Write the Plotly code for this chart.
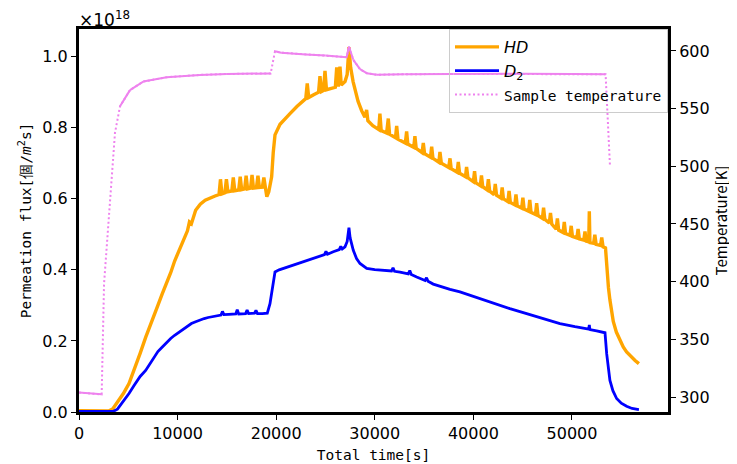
import plotly.graph_objects as go

# ---------------- data (flux in units of 1e18 /m^2 s) ----------------
hd_time = [0, 1000, 2000, 3000, 3400, 4000, 4500, 5070, 5600, 6200, 6760, 7200, 7600, 8000, 8450,
           8900, 9300, 9700, 10140, 10600, 11000, 11200, 11400, 11830, 12300, 12800, 13300, 13800,
           14200, 14350, 14500, 14800, 14950, 15100, 15500, 15650, 15800, 16200, 16350, 16500,
           16800, 16950, 17100, 17400, 17550, 17700, 18000, 18150, 18300, 18600, 18750, 18900,
           19050, 19250, 19540, 19700, 19880, 20390, 20900, 21400, 22100, 22750, 23000, 23150,
           23300, 23800, 24300, 24440, 24600, 24800, 24950, 25100, 25600, 26000, 26140, 26300,
           26470, 26600, 26980, 27200, 27380, 27550, 27800, 27990, 28300, 28670, 29000, 29170,
           29300, 29800, 30400, 30520, 30650, 31200, 31370, 31500, 32100, 32220, 32350, 33100,
           33230, 33350, 33950, 34070, 34200, 34800, 34920, 35050, 35650, 35770, 35900, 36500,
           36610, 36750, 37500, 37630, 37750, 38350, 38470, 38600, 39200, 39310, 39450,
           40000, 40120, 40250, 40700, 40820, 40950, 41400, 41520, 41650, 42100, 42220, 42350,
           42800, 42920, 43050, 43500, 43620, 43750, 44200, 44320, 44450, 44900, 45020, 45150,
           45600, 45720, 45850, 46300, 46420, 46550, 47000, 47120, 47250, 47700, 47820, 47950,
           48400, 48520, 48650, 49100, 49220, 49350, 49800, 49920, 50050, 50500, 50620, 50750,
           51200, 51320, 51450, 51700, 51760, 51820, 52200, 52320, 52450, 52900, 53020, 53150,
           53400, 53520, 53700, 53850, 54190, 54500, 54870, 55200, 55540, 56000, 56400, 56790]
hd_flux = [0.004, 0.003, 0.004, 0.003, 0.008, 0.030, 0.052, 0.080, 0.118, 0.165, 0.210, 0.240, 0.268,
           0.300, 0.333, 0.362, 0.392, 0.425, 0.455, 0.485, 0.510, 0.535, 0.530, 0.568, 0.585, 0.596,
           0.603, 0.608, 0.612, 0.655, 0.614, 0.617, 0.655, 0.620, 0.622, 0.660, 0.623, 0.625, 0.662,
           0.626, 0.628, 0.665, 0.628, 0.630, 0.667, 0.630, 0.631, 0.665, 0.632, 0.633, 0.660, 0.625,
           0.606, 0.620, 0.662, 0.730, 0.780, 0.810, 0.826, 0.840, 0.860, 0.878, 0.882, 0.925, 0.885,
           0.893, 0.900, 0.945, 0.902, 0.905, 0.960, 0.907, 0.912, 0.914, 0.970, 0.916, 0.972, 0.920,
           0.930, 0.950, 1.027, 0.970, 0.930, 0.910, 0.875, 0.848, 0.830, 0.850, 0.820, 0.806, 0.795,
           0.840, 0.792, 0.785, 0.826, 0.782, 0.772, 0.805, 0.768, 0.757, 0.790, 0.754, 0.745, 0.776,
           0.742, 0.730, 0.757, 0.727, 0.717, 0.747, 0.714, 0.703, 0.732, 0.700, 0.688, 0.714, 0.685,
           0.675, 0.704, 0.672, 0.662, 0.690, 0.659,
           0.648, 0.678, 0.645, 0.637, 0.666, 0.634, 0.625, 0.655, 0.622, 0.612, 0.642, 0.610,
           0.602, 0.632, 0.600, 0.592, 0.622, 0.590, 0.583, 0.612, 0.580, 0.574, 0.603, 0.571,
           0.565, 0.597, 0.562, 0.556, 0.588, 0.553, 0.545, 0.575, 0.542, 0.532, 0.560, 0.529,
           0.515, 0.545, 0.512, 0.505, 0.535, 0.502, 0.497, 0.524, 0.494, 0.490, 0.515, 0.487,
           0.484, 0.508, 0.481, 0.479, 0.565, 0.477, 0.475, 0.499, 0.472, 0.469, 0.491, 0.465,
           0.462, 0.408, 0.350, 0.315, 0.255, 0.225, 0.202, 0.183, 0.169, 0.155, 0.145, 0.136]

d2_time = [0, 3500, 3900, 4300, 5070, 5600, 6200, 6760, 7200, 7600, 8000, 8450, 8900, 9300, 9700,
           10140, 10600, 11000, 11400, 11830, 12300, 12700, 13100, 13520, 14000, 14400, 14550, 14700,
           15200, 15900, 16050, 16200, 16900, 17050, 17200, 17800, 17950, 18100, 18590, 19100, 19370,
           19700, 19880, 20300, 20720, 21500, 22410, 23200, 24110, 24900, 25050, 25200, 25790, 26400,
           26550, 26700, 26980, 27200, 27380, 27500, 27820, 28150, 28500, 29180, 30000, 30860, 31700,
           31850, 32000, 32560, 33400, 33550, 33700, 34250, 35100, 35250, 35400, 35930, 36800, 37630,
           38640, 40300, 42020, 43700, 45400, 47100, 48780, 50300, 51700, 51760, 51820, 52500, 53350,
           53520, 53700, 53850, 54150, 54530, 55000, 55540, 56100, 56790]
d2_flux = [0.002, 0.002, 0.008, 0.022, 0.052, 0.075, 0.100, 0.117, 0.137, 0.155, 0.170, 0.183, 0.196,
           0.207, 0.216, 0.225, 0.235, 0.242, 0.249, 0.254, 0.260, 0.263, 0.266, 0.268, 0.271, 0.273,
           0.283, 0.274, 0.275, 0.276, 0.288, 0.276, 0.277, 0.287, 0.277, 0.278, 0.286, 0.277, 0.277,
           0.278, 0.305, 0.360, 0.394, 0.400, 0.404, 0.410, 0.418, 0.426, 0.435, 0.443, 0.452, 0.444,
           0.451, 0.457, 0.466, 0.459, 0.465, 0.480, 0.519, 0.490, 0.455, 0.432, 0.418, 0.404, 0.401,
           0.399, 0.397, 0.406, 0.396, 0.394, 0.389, 0.398, 0.387, 0.380, 0.370, 0.378, 0.368, 0.360,
           0.352, 0.345, 0.338, 0.322, 0.305, 0.291, 0.277, 0.263, 0.249, 0.240, 0.233, 0.245, 0.232,
           0.228, 0.223, 0.164, 0.120, 0.089, 0.060, 0.038, 0.025, 0.016, 0.010, 0.007]

temp_time = [0, 2300, 2540, 3040, 3140, 3650, 4160, 5170, 6520, 8890, 12270, 15000, 19440, 19880,
             20500, 23000, 25000, 27150, 27380, 27820, 28500, 29180, 30200, 33000, 38000, 45000,
             50000, 53410, 53850]
temp_k = [303.8, 302.3, 398.0, 456.0, 471.0, 529.0, 552.0, 566.0, 573.4, 577.2, 579.2, 580.0, 580.5,
          599.7, 598.5, 597.0, 596.0, 594.6, 603.8, 592.3, 584.2, 580.7, 579.3, 579.8, 580.0, 580.2,
          580.0, 579.8, 501.0]

x_ticks = [0, 10000, 20000, 30000, 40000, 50000]
flux_ticks = [0.0, 0.2, 0.4, 0.6, 0.8, 1.0]
temp_ticks = [300, 350, 400, 450, 500, 550, 600]

# ---------------- styling helpers ----------------
MONO = "DejaVu Sans Mono, monospace"
SANS = "DejaVu Sans, sans-serif"
PINK = "#EE82EE"

# split temperature into fast-changing (dotted-looking) and slow (solid-looking) segments
solid_x, solid_y = [], []
for i in range(len(temp_time) - 1):
    t0, t1 = temp_time[i], temp_time[i + 1]
    v0, v1 = temp_k[i], temp_k[i + 1]
    slope = abs(v1 - v0) / (t1 - t0)
    if slope < 0.042:
        solid_x += [t0, t1, None]
        solid_y += [v0, v1, None]

fig = go.Figure()
fig.add_trace(go.Scatter(x=hd_time, y=hd_flux, mode="lines", name="<i>HD</i>",
                         line=dict(color="orange", width=3.4)))
fig.add_trace(go.Scatter(x=d2_time, y=d2_flux, mode="lines", name="<i>D</i><sub>2</sub>",
                         line=dict(color="blue", width=2.8)))
fig.add_trace(go.Scatter(x=temp_time, y=temp_k, mode="lines", yaxis="y2",
                         name="<span style='font-family:DejaVu Sans Mono;font-size:14.5px'>Sample temperature</span>",
                         line=dict(color=PINK, width=2, dash="2px,2.5px")))
fig.add_trace(go.Scatter(x=solid_x, y=solid_y, mode="lines", yaxis="y2", showlegend=False,
                         hoverinfo="skip", line=dict(color=PINK, width=2)))

axis_common = dict(showgrid=False, zeroline=False, ticks="outside", ticklen=5, tickwidth=1,
                   tickcolor="black", showline=True, linecolor="black", linewidth=3,
                   automargin=False,
                   tickfont=dict(family=SANS, size=16, color="black"))

# page body has an 8px margin, so the figure is drawn from (8, 8)
fig.update_layout(
    width=729, height=456,
    margin=dict(l=71, r=69, t=21, b=52, autoexpand=False),
    plot_bgcolor="white", paper_bgcolor="white",
    xaxis=dict(range=[0, 59740], tickvals=x_ticks, ticktext=[str(v) for v in x_ticks], mirror=True,
               title=dict(text="Total time[s]", font=dict(family=MONO, size=14.5, color="black"),
                          standoff=8),
               **axis_common),
    yaxis=dict(range=[0, 1.078], tickvals=flux_ticks, ticktext=[f"{v:.1f}" for v in flux_ticks],
               title=dict(text="Permeation flux[個/<i>m</i><sup>2</sup>s]",
                          font=dict(family=MONO, size=14.5, color="black"), standoff=8),
               **axis_common),
    yaxis2=dict(range=[287, 619], overlaying="y", side="right", tickvals=temp_ticks,
                title=dict(text="Temperature[K]",
                           font=dict(family="Noto Sans CJK JP, sans-serif", size=15, color="black"),
                           standoff=6),
                **axis_common),
    legend=dict(x=1, y=1, xanchor="right", yanchor="top", bgcolor="rgba(255,255,255,0)",
                bordercolor="#cccccc", borderwidth=1, font=dict(family=SANS, size=16, color="black"),
                tracegroupgap=0, itemwidth=44),
    showlegend=True,
)
fig.add_annotation(text="×10<sup>18</sup>", xref="paper", yref="paper", x=0, y=1,
                   xanchor="left", yanchor="bottom", showarrow=False, yshift=-3, xshift=-2,
                   font=dict(family=SANS, size=17, color="black"))

fig.write_html("out.html")
